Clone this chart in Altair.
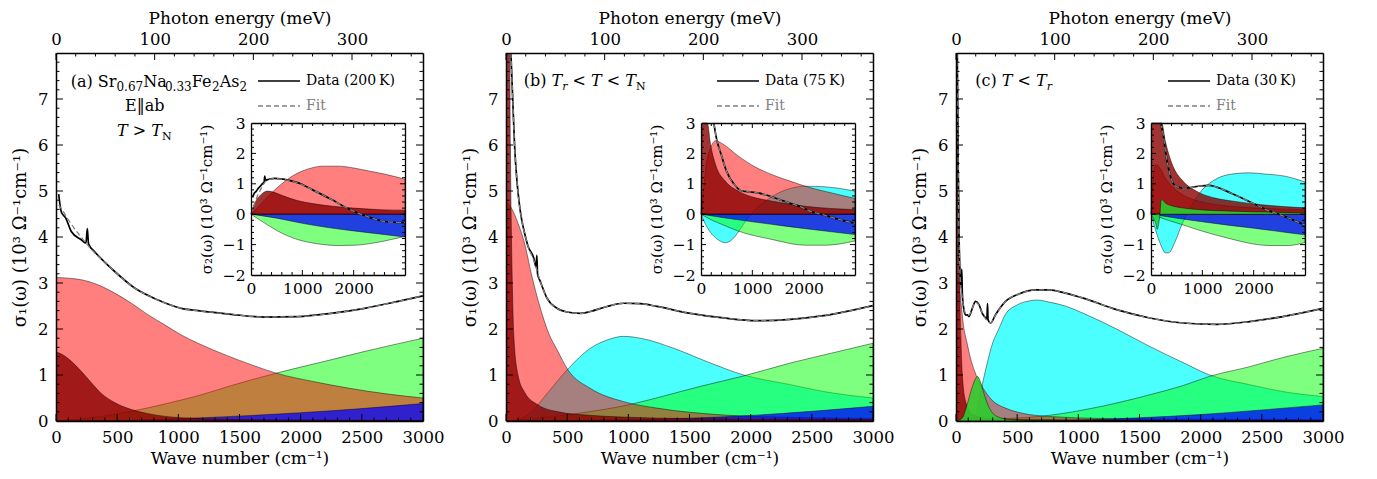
import altair as alt
import pandas as pd

# ------------------------------------------------------------------ data
# Panel (a)  T > TN, 200 K   -- sigma1 (main)
a1_data_x = [22, 43, 80, 125, 207, 245, 256, 266, 316, 400, 480, 643, 834, 1024, 1161, 1433, 1706, 1978, 2248, 2523, 2796, 3000]
a1_data_y = [4.93, 4.55, 4.41, 4.12, 3.94, 3.87, 4.18, 3.85, 3.68, 3.45, 3.25, 2.89, 2.63, 2.45, 2.40, 2.32, 2.26, 2.27, 2.34, 2.45, 2.60, 2.72]
a1_fit_x = [22, 60, 100, 160, 220, 300, 400, 480, 643, 834, 1024, 1161, 1433, 1706, 1978, 2248, 2523, 2796, 3000]
a1_fit_y = [4.70, 4.55, 4.38, 4.15, 3.95, 3.70, 3.45, 3.25, 2.89, 2.63, 2.45, 2.40, 2.32, 2.26, 2.27, 2.34, 2.45, 2.60, 2.72]
a1_dred_x = [0, 40, 125, 207, 289, 370, 480, 616, 752, 1024, 1500, 2000, 3000]
a1_dred_y = [1.50, 1.46, 1.30, 1.08, 0.83, 0.60, 0.40, 0.25, 0.16, 0.07, 0.03, 0.02, 0.01]
a1_red_x = [0, 207, 343, 480, 616, 752, 889, 1024, 1161, 1400, 1600, 1800, 2100, 2400, 2700, 3000]
a1_red_y = [3.12, 3.07, 2.96, 2.78, 2.56, 2.31, 2.09, 1.87, 1.69, 1.42, 1.22, 1.04, 0.86, 0.71, 0.59, 0.50]
a1_green_x = [0, 343, 616, 889, 1161, 1433, 1800, 2248, 2520, 3000]
a1_green_y = [0.0, 0.09, 0.21, 0.37, 0.55, 0.77, 1.04, 1.33, 1.51, 1.80]
a1_blue_x = [0, 500, 800, 1200, 1600, 2000, 2500, 3000]
a1_blue_y = [0.0, 0.01, 0.03, 0.07, 0.12, 0.18, 0.27, 0.38]
# Panel (a) -- sigma2 (inset)
a2_data_x = [30, 60, 100, 140, 180, 220, 255, 268, 280, 350, 467, 700, 922, 1200, 1572, 1896, 2221, 2610, 3000]
a2_data_y = [0.55, 0.68, 0.75, 0.85, 0.92, 1.00, 1.05, 1.25, 1.12, 1.15, 1.18, 1.13, 1.03, 0.80, 0.48, 0.18, -0.05, -0.24, -0.28]
a2_fit_x = [0, 100, 200, 300, 467, 700, 922, 1200, 1572, 1896, 2221, 2610, 3000]
a2_fit_y = [0.0, 0.50, 0.85, 1.10, 1.17, 1.12, 1.02, 0.80, 0.48, 0.18, -0.05, -0.24, -0.28]
a2_dred_x = [0, 100, 200, 320, 450, 600, 900, 1200, 1600, 2000, 2500, 3000]
a2_dred_y = [0.0, 0.45, 0.65, 0.76, 0.72, 0.62, 0.45, 0.35, 0.26, 0.20, 0.15, 0.13]
a2_red_x = [0, 200, 400, 600, 800, 1000, 1200, 1400, 1700, 2000, 2300, 2600, 3000]
a2_red_y = [0.0, 0.35, 0.70, 1.00, 1.25, 1.42, 1.53, 1.58, 1.58, 1.52, 1.42, 1.32, 1.15]
a2_green_x = [0, 273, 597, 922, 1247, 1701, 2026, 2416, 2740, 3000]
a2_green_y = [0.0, -0.30, -0.62, -0.84, -0.96, -1.03, -1.02, -0.94, -0.83, -0.73]
a2_blue_x = [0, 500, 1000, 1500, 2000, 2500, 3000]
a2_blue_y = [0.0, -0.13, -0.30, -0.44, -0.55, -0.65, -0.75]

# Panel (b)  Tr < T < TN, 75 K -- sigma1
b1_data_x = [40, 55, 70, 90, 110, 130, 155, 180, 226, 246, 252, 258, 281, 335, 417, 499, 608, 689, 826, 962, 1098, 1234, 1507, 1779, 2052, 2324, 2597, 3000]
b1_data_y = [8.0, 7.0, 6.0, 5.2, 4.7, 4.35, 4.05, 3.8, 3.55, 3.35, 3.6, 3.2, 3.03, 2.67, 2.45, 2.37, 2.34, 2.38, 2.49, 2.56, 2.55, 2.49, 2.34, 2.24, 2.18, 2.21, 2.29, 2.51]
b1_fit_x = [40, 55, 70, 90, 110, 130, 155, 180, 226, 281, 335, 417, 499, 608, 689, 826, 962, 1098, 1234, 1507, 1779, 2052, 2324, 2597, 3000]
b1_fit_y = [8.0, 7.0, 6.0, 5.2, 4.7, 4.35, 4.05, 3.8, 3.5, 3.03, 2.67, 2.45, 2.37, 2.34, 2.38, 2.49, 2.56, 2.55, 2.49, 2.34, 2.24, 2.18, 2.21, 2.29, 2.51]
b1_dred_x = [0, 30, 36, 42, 50, 65, 98, 153, 262, 425, 700, 1000, 1500, 2000, 3000]
b1_dred_y = [8.0, 8.0, 6.0, 4.5, 3.2, 1.8, 1.0, 0.62, 0.35, 0.20, 0.12, 0.08, 0.05, 0.04, 0.03]
b1_red_x = [0, 44, 98, 153, 207, 281, 350, 417, 507, 689, 962, 1234, 1779, 2324, 3000]
b1_red_y = [4.77, 4.63, 4.30, 3.85, 3.20, 2.45, 1.90, 1.55, 1.11, 0.71, 0.42, 0.28, 0.13, 0.08, 0.05]
b1_cyan_x = [0, 100, 207, 343, 499, 689, 826, 962, 1098, 1371, 1643, 1943, 2324, 2597, 3000]
b1_cyan_y = [0.0, 0.03, 0.20, 0.62, 1.11, 1.58, 1.76, 1.84, 1.80, 1.58, 1.29, 1.00, 0.79, 0.64, 0.50]
b1_green_x = [0, 300, 600, 1000, 1300, 1600, 1943, 2324, 2700, 3000]
b1_green_y = [0.0, 0.07, 0.17, 0.35, 0.55, 0.76, 0.98, 1.26, 1.50, 1.69]
b1_blue_x = [0, 500, 1000, 1500, 2000, 2500, 3000]
b1_blue_y = [0.0, 0.01, 0.03, 0.06, 0.12, 0.21, 0.32]
# Panel (b) -- sigma2
b2_data_x = [250, 300, 394, 500, 660, 782, 900, 1105, 1254, 1429, 1700, 1945, 2159, 2399, 2700, 3000]
b2_data_y = [3.0, 2.5, 1.96, 1.40, 0.95, 0.77, 0.74, 0.70, 0.64, 0.54, 0.38, 0.24, 0.08, -0.03, -0.18, -0.30]
b2_fit_x = b2_data_x
b2_fit_y = b2_data_y
b2_dred_x = [0, 10, 26, 60, 123, 187, 284, 478, 737, 1060, 1383, 2030, 3000]
b2_dred_y = [0.0, 1.5, 3.0, 3.0, 3.0, 2.29, 1.63, 1.08, 0.75, 0.54, 0.43, 0.26, 0.15]
b2_red_x = [0, 40, 90, 187, 284, 414, 737, 1060, 1383, 1751, 2030, 2418, 3000]
b2_red_y = [0.0, 0.6, 1.5, 2.18, 2.42, 2.32, 1.90, 1.55, 1.30, 1.08, 0.92, 0.75, 0.52]
b2_cyan_x = [0, 90, 220, 381, 478, 608, 737, 866, 995, 1254, 1513, 1771, 2030, 2418, 3000]
b2_cyan_y = [0.0, -0.34, -0.67, -0.89, -0.94, -0.83, -0.56, -0.23, 0.04, 0.43, 0.70, 0.86, 0.92, 0.90, 0.76]
b2_green_x = [0, 220, 414, 737, 1383, 2030, 2418, 3000]
b2_green_y = [0.0, -0.20, -0.34, -0.56, -0.83, -1.02, -1.02, -0.88]
b2_blue_x = [0, 500, 1000, 1500, 2000, 2500, 3000]
b2_blue_y = [0.0, -0.13, -0.25, -0.36, -0.47, -0.57, -0.67]

# Panel (c)  T < Tr, 30 K -- sigma1
c1_data_x = [8, 15, 25, 33, 42, 47, 52, 63, 70, 80, 92, 106, 133, 160, 188, 215, 242, 252, 258, 262, 283, 323, 405, 514, 649, 758, 894, 1041, 1312, 1584, 1856, 2128, 2399, 2671, 3000]
c1_data_y = [8.0, 6.0, 4.0, 3.2, 2.9, 3.3, 2.75, 2.45, 2.35, 2.3, 2.31, 2.27, 2.45, 2.6, 2.53, 2.34, 2.24, 2.22, 2.55, 2.2, 2.13, 2.31, 2.6, 2.76, 2.85, 2.85, 2.78, 2.67, 2.42, 2.24, 2.13, 2.10, 2.16, 2.27, 2.45]
c1_fit_x = [8, 15, 25, 35, 50, 65, 80, 106, 133, 160, 188, 215, 242, 283, 323, 405, 514, 649, 758, 894, 1041, 1312, 1584, 1856, 2128, 2399, 2671, 3000]
c1_fit_y = [8.0, 6.0, 4.0, 3.1, 2.7, 2.45, 2.33, 2.3, 2.45, 2.58, 2.52, 2.34, 2.22, 2.14, 2.3, 2.6, 2.76, 2.85, 2.85, 2.78, 2.67, 2.42, 2.24, 2.13, 2.10, 2.16, 2.27, 2.45]
c1_dred_x = [0, 15, 20, 24, 30, 40, 52, 79, 133, 250, 500, 1000, 3000]
c1_dred_y = [8.0, 8.0, 6.0, 4.5, 3.0, 1.8, 1.0, 0.42, 0.15, 0.06, 0.03, 0.02, 0.01]
c1_red_x = [0, 24, 40, 60, 90, 120, 150, 180, 220, 296, 405, 541, 758, 1300, 2000, 3000]
c1_red_y = [3.2, 3.0, 2.6, 2.1, 1.7, 1.35, 1.1, 0.9, 0.72, 0.45, 0.28, 0.17, 0.10, 0.05, 0.04, 0.03]
c1_gn_x = [0, 50, 90, 130, 160, 175, 200, 226, 266, 334, 443, 600, 1000, 3000]
c1_gn_y = [0.0, 0.06, 0.35, 0.72, 0.92, 0.97, 0.85, 0.62, 0.32, 0.10, 0.03, 0.01, 0.0, 0.0]
c1_cyan_x = [0, 140, 170, 200, 250, 300, 350, 400, 497, 580, 660, 769, 905, 1041, 1312, 1584, 1856, 2073, 2399, 2671, 3000]
c1_cyan_y = [0.0, 0.02, 0.2, 0.6, 1.2, 1.7, 2.0, 2.3, 2.52, 2.6, 2.63, 2.58, 2.49, 2.34, 2.0, 1.62, 1.27, 1.0, 0.79, 0.64, 0.53]
c1_green_x = [0, 300, 688, 1041, 1312, 1584, 1856, 2073, 2399, 2671, 3000]
c1_green_y = [0.0, 0.04, 0.10, 0.24, 0.39, 0.57, 0.77, 0.97, 1.18, 1.38, 1.58]
c1_blue_x = [0, 1000, 1500, 2000, 2500, 3000]
c1_blue_y = [0.0, 0.02, 0.07, 0.14, 0.24, 0.35]
# Panel (c) -- sigma2
c2_data_x = [190, 240, 278, 330, 408, 505, 667, 926, 1120, 1266, 1574, 1913, 2221, 2610, 3000]
c2_data_y = [3.0, 2.6, 2.1, 1.6, 1.1, 0.9, 0.86, 0.92, 0.95, 0.90, 0.68, 0.42, 0.17, -0.08, -0.36]
c2_fit_x = c2_data_x
c2_fit_y = c2_data_y
c2_dred_x = [0, 8, 150, 208, 280, 369, 450, 629, 952, 1250, 1600, 2221, 3000]
c2_dred_y = [0.0, 3.0, 3.0, 3.0, 2.4, 1.85, 1.5, 1.08, 0.70, 0.53, 0.43, 0.30, 0.21]
c2_red_x = [0, 30, 60, 90, 130, 181, 278, 473, 667, 926, 1574, 2221, 3000]
c2_red_y = [0.0, 0.9, 1.45, 1.63, 1.60, 1.50, 1.19, 0.81, 0.59, 0.43, 0.26, 0.19, 0.15]
c2_gn_x = [0, 50, 100, 120, 150, 175, 195, 214, 278, 400, 602, 1000, 1574, 2221, 3000]
c2_gn_y = [0.0, -0.15, -0.35, -0.50, -0.30, 0.0, 0.45, 0.48, 0.37, 0.28, 0.21, 0.14, 0.10, 0.07, 0.04]
c2_cyan_x = [0, 117, 214, 278, 343, 473, 602, 732, 926, 1250, 1574, 1898, 2221, 2610, 3000]
c2_cyan_y = [0.0, -0.67, -1.10, -1.27, -1.27, -0.89, -0.34, 0.10, 0.65, 1.14, 1.32, 1.36, 1.32, 1.25, 1.06]
c2_green_x = [0, 300, 602, 926, 1250, 1574, 1900, 2300, 2675, 3000]
c2_green_y = [0.0, -0.18, -0.34, -0.52, -0.68, -0.82, -0.95, -1.03, -1.03, -0.93]
c2_blue_x = [0, 500, 1000, 1500, 2000, 2500, 3000]
c2_blue_y = [0.0, -0.13, -0.25, -0.36, -0.46, -0.57, -0.68]

# tick values / labels
main_x_major = [0, 500, 1000, 1500, 2000, 2500, 3000]
main_x_minor = [v for v in range(0, 3001, 100) if v % 500]
mev_major = [0, 100, 200, 300]
mev_minor = [v for v in range(0, 372, 20) if v % 100]
main_y_labels = [0, 1, 2, 3, 4, 5, 6, 7]
main_y_major = [1, 2, 3, 4, 5, 6, 7]
main_y_minor = [round(k * 0.2, 1) for k in range(1, 40) if k % 5]
in_x_labels = [0, 1000, 2000]
in_x_major = [1000, 2000]
in_x_minor = [v for v in range(200, 3000, 200) if v % 1000]
in_y_major = [-2, -1, 0, 1, 2, 3]
in_y_ticks = [-1, 0, 1, 2]
in_y_minor = [round(-2 + k * 0.2, 1) for k in range(1, 25) if k % 5]

# ------------------------------------------------------------------ style / layout
FONT = "DejaVu Serif"
W, H = 367, 368
XMAX, YMAX = 3000, 8
MEV_MAX = 3000 * 0.123984
IX = [195, 349]
IY = [222, 70]

COL = {
    "cyan": ("#00ffff", 0.7),
    "green": ("#00ff00", 0.5),
    "red": ("#ff0000", 0.5),
    "blue": ("#0000ff", 0.75),
    "dred": ("#8b0000", 0.8),
    "gn": ("#2ecc2e", 0.9),
}

AX = dict(labelFont=FONT, titleFont=FONT, labelColor="black", titleColor="black",
          domainColor="black", tickColor="black", grid=False, zindex=2,
          titleFontWeight="normal", labelOverlap=False, labelFlush=False)


def sx(inset):
    return alt.Scale(domain=[0, XMAX], range=IX if inset else [0, W], nice=False, zero=False)


def sy(inset):
    if inset:
        return alt.Scale(domain=[-2, 3], range=IY, nice=False, zero=False, clamp=True)
    return alt.Scale(domain=[0, YMAX], range=[H, 0], nice=False, zero=False)


def sev():
    return alt.Scale(domain=[0, MEV_MAX], range=[0, W], nice=False, zero=False)


def area(x, y, key, inset):
    fill, op = COL[key]
    return alt.Chart(pd.DataFrame({"x": x, "y": y})).mark_area(
        fill=fill, fillOpacity=op, stroke="black", strokeWidth=0.6, strokeOpacity=0.75,
        interpolate="monotone", clip=not inset
    ).encode(
        x=alt.X("x:Q", scale=sx(inset), axis=None),
        y=alt.Y("y:Q", scale=sy(inset), axis=None),
        y2=alt.datum(0),
    )


def line(x, y, inset, fit=False):
    if fit:
        mk = dict(color="#7f7f7f", strokeDash=[5, 3], strokeWidth=1.3)
    else:
        mk = dict(color="black", strokeWidth=1.7)
    return alt.Chart(pd.DataFrame({"x": x, "y": y})).mark_line(
        interpolate="monotone", clip=not inset, **mk
    ).encode(
        x=alt.X("x:Q", scale=sx(inset), axis=None),
        y=alt.Y("y:Q", scale=sy(inset), axis=None),
    )


def ax_layer(x_scale=None, x_axis=None, y_scale=None, y_axis=None):
    enc = {}
    if x_axis is not None:
        enc["x"] = alt.X("v:Q", scale=x_scale, axis=x_axis)
    if y_axis is not None:
        enc["y"] = alt.Y("v:Q", scale=y_scale, axis=y_axis)
    return alt.Chart(pd.DataFrame({"v": [0.0]})).mark_point(opacity=0).encode(**enc)


def vticks(values, scale, edge, length):
    """inward tick marks along a horizontal frame edge (edge = pixel row, length signed)"""
    return alt.Chart(pd.DataFrame({"v": values})).mark_rule(color="black", strokeWidth=1).encode(
        x=alt.X("v:Q", scale=scale, axis=None), y=alt.value(edge), y2=alt.value(edge + length))


def hticks(values, scale, edge, length):
    """inward tick marks along a vertical frame edge"""
    return alt.Chart(pd.DataFrame({"v": values})).mark_rule(color="black", strokeWidth=1).encode(
        y=alt.Y("v:Q", scale=scale, axis=None), x=alt.value(edge), x2=alt.value(edge + length))


def frame():
    xm, ym = sx(False), sy(False)
    xi, yi = sx(True), sy(True)
    L = []
    # inward ticks, main frame
    L += [vticks(main_x_major, xm, H, -7), vticks(main_x_minor, sx(False), H, -3.5),
          vticks(mev_major, sev(), 0, 7), vticks(mev_minor, sev(), 0, 3.5),
          hticks(main_y_major, ym, 0, 7), hticks(main_y_minor, sy(False), 0, 3.5),
          hticks(main_y_major, sy(False), W, -7), hticks(main_y_minor, sy(False), W, -3.5)]
    # inward ticks, inset frame
    L += [vticks(in_x_major, xi, IY[0], -5), vticks(in_x_minor, sx(True), IY[0], -3),
          vticks(in_x_major, sx(True), IY[1], 5), vticks(in_x_minor, sx(True), IY[1], 3),
          hticks(in_y_ticks, yi, IX[0], 5), hticks(in_y_minor, sy(True), IX[0], 3),
          hticks(in_y_ticks, sy(True), IX[1], -5), hticks(in_y_minor, sy(True), IX[1], -3)]
    # main frame with labels
    L.append(ax_layer(sx(False), alt.Axis(orient="bottom", values=main_x_major, ticks=False, format="d",
                                          labelFontSize=16.5, labelPadding=8, domainWidth=1.5,
                                          title="Wave number (cm\u207b\u00b9)", titleFontSize=17,
                                          titlePadding=5, **AX),
                      sy(False), alt.Axis(orient="left", values=main_y_labels, ticks=False, format="d",
                                          labelFontSize=16.5, labelPadding=8, domainWidth=1.5,
                                          title="\u03c3\u2081(\u03c9) (10\u00b3 \u03a9\u207b\u00b9cm\u207b\u00b9)",
                                          titleFontSize=18, titlePadding=8, **AX)))
    L.append(ax_layer(sev(), alt.Axis(orient="top", values=mev_major, ticks=False, format="d",
                                      labelFontSize=16.5, labelPadding=6, domainWidth=1.5,
                                      title="Photon energy (meV)", titleFontSize=17,
                                      titlePadding=4, **AX),
                      sy(False), alt.Axis(orient="right", ticks=False, labels=False, domainWidth=1.5,
                                          title=None, **AX)))
    # inset frame with labels
    L.append(ax_layer(sx(True), alt.Axis(orient="bottom", offset=-(H - IY[0]), values=in_x_labels,
                                         ticks=False, format="d", labelFontSize=15.5, labelPadding=6,
                                         domainWidth=1.3, title=None, **AX),
                      sy(True), alt.Axis(orient="left", offset=-IX[0], values=in_y_major, ticks=False,
                                         format="d", labelFontSize=15.5, labelPadding=6, domainWidth=1.3,
                                         title="\u03c3\u2082(\u03c9) (10\u00b3 \u03a9\u207b\u00b9cm\u207b\u00b9)",
                                         titleFontSize=15, titlePadding=8, **AX)))
    L.append(ax_layer(sx(True), alt.Axis(orient="top", offset=-IY[1], ticks=False, labels=False,
                                         domainWidth=1.3, title=None, **AX),
                      sy(True), alt.Axis(orient="right", offset=-(W - IX[1]), ticks=False, labels=False,
                                         domainWidth=1.3, title=None, **AX)))
    return L


# ---- text helpers
WID = {" ": 0.318, "(": 0.390, ")": 0.390, ".": 0.318, "a": 0.596, "b": 0.640, "c": 0.560,
       "e": 0.592, "r": 0.478, "s": 0.513, "S": 0.688, "N": 0.765, "F": 0.683, "A": 0.722,
       "T": 0.669, "<": 0.838, ">": 0.838}
for d in "0123456789":
    WID[d] = 0.636


def text_mark(txt, x, y, size=16, color="black", style="normal", align="left", baseline="alphabetic"):
    return alt.Chart(pd.DataFrame({"t": [txt]})).mark_text(
        text=txt, font=FONT, fontSize=size, color=color, fontStyle=style,
        align=align, baseline=baseline
    ).encode(x=alt.value(x), y=alt.value(y))


def rich(pieces, x0, y0):
    out = []
    x = x0
    for txt, size, dy, style in pieces:
        if txt.strip():
            out.append(text_mark(txt, x, y0 + dy, size, style=style))
        x += sum(WID.get(ch, 0.6) for ch in txt) * size
    return out


def legend(label, x_text):
    out = [
        alt.Chart(pd.DataFrame({"v": [0]})).mark_rule(color="black", strokeWidth=1.5).encode(
            x=alt.value(x_text - 48), x2=alt.value(x_text - 6), y=alt.value(28)),
        alt.Chart(pd.DataFrame({"v": [0]})).mark_rule(color="#7f7f7f", strokeWidth=1.5,
                                                       strokeDash=[5, 3]).encode(
            x=alt.value(x_text - 48), x2=alt.value(x_text - 6), y=alt.value(53)),
        text_mark(label, x_text, 28, 14, baseline="middle"),
        text_mark("Fit", x_text, 53, 14, color="#808080", baseline="middle"),
    ]
    return out


def panel(main, inset, texts):
    layers = []
    for inset_flag, comp in ((False, main), (True, inset)):
        for key in ("cyan", "green", "red", "blue", "dred", "gn"):
            if key in comp:
                layers.append(area(comp[key][0], comp[key][1], key, inset_flag))
        layers.append(line(comp["data"][0], comp["data"][1], inset_flag))
        layers.append(line(comp["fit"][0], comp["fit"][1], inset_flag, fit=True))
    layers += texts
    layers += frame()
    return alt.layer(*layers).resolve_scale(x="independent", y="independent").properties(
        width=W, height=H)


S, I = "normal", "italic"
txt_a = rich([("(a) Sr", 16, 0, S), ("0.67", 12, 4, S), ("Na", 16, 0, S), ("0.33", 12, 4, S),
              ("Fe", 16, 0, S), ("2", 12, 4, S), ("As", 16, 0, S), ("2", 12, 4, S)], 14.7, 33.7)
txt_a += [text_mark("E\u2016ab", 88.7, 58, 16, align="center")]
txt_a += rich([("T", 16, 0, I), (" ", 16, 0, S), (">", 16, 0, S), (" ", 16, 0, S),
               ("T", 16, 0, I), ("N", 11, 4, S)], 61, 83)
txt_a += legend("Data (200\u2009K)", 250)

txt_b = rich([("(b)", 16, 0, S), (" ", 16, 0, S), ("T", 16, 0, I), ("r", 11, 4, I),
              (" ", 16, 0, S), ("<", 16, 0, S), (" ", 16, 0, S), ("T", 16, 0, I),
              (" ", 16, 0, S), ("<", 16, 0, S), (" ", 16, 0, S), ("T", 16, 0, I),
              ("N", 11, 4, S)], 17.7, 33)
txt_b += legend("Data (75\u2009K)", 259)

txt_c = rich([("(c)", 16, 0, S), (" ", 16, 0, S), ("T", 16, 0, I), (" ", 16, 0, S),
              ("<", 16, 0, S), (" ", 16, 0, S), ("T", 16, 0, I), ("r", 11, 4, I)], 19.3, 33)
txt_c += legend("Data (30\u2009K)", 260)

pa = panel(
    {"green": (a1_green_x, a1_green_y), "red": (a1_red_x, a1_red_y), "blue": (a1_blue_x, a1_blue_y),
     "dred": (a1_dred_x, a1_dred_y), "data": (a1_data_x, a1_data_y), "fit": (a1_fit_x, a1_fit_y)},
    {"green": (a2_green_x, a2_green_y), "red": (a2_red_x, a2_red_y), "blue": (a2_blue_x, a2_blue_y),
     "dred": (a2_dred_x, a2_dred_y), "data": (a2_data_x, a2_data_y), "fit": (a2_fit_x, a2_fit_y)},
    txt_a)
pb = panel(
    {"cyan": (b1_cyan_x, b1_cyan_y), "green": (b1_green_x, b1_green_y), "red": (b1_red_x, b1_red_y),
     "blue": (b1_blue_x, b1_blue_y), "dred": (b1_dred_x, b1_dred_y),
     "data": (b1_data_x, b1_data_y), "fit": (b1_fit_x, b1_fit_y)},
    {"cyan": (b2_cyan_x, b2_cyan_y), "green": (b2_green_x, b2_green_y), "red": (b2_red_x, b2_red_y),
     "blue": (b2_blue_x, b2_blue_y), "dred": (b2_dred_x, b2_dred_y),
     "data": (b2_data_x, b2_data_y), "fit": (b2_fit_x, b2_fit_y)},
    txt_b)
pc = panel(
    {"cyan": (c1_cyan_x, c1_cyan_y), "green": (c1_green_x, c1_green_y), "red": (c1_red_x, c1_red_y),
     "blue": (c1_blue_x, c1_blue_y), "dred": (c1_dred_x, c1_dred_y), "gn": (c1_gn_x, c1_gn_y),
     "data": (c1_data_x, c1_data_y), "fit": (c1_fit_x, c1_fit_y)},
    {"cyan": (c2_cyan_x, c2_cyan_y), "green": (c2_green_x, c2_green_y), "red": (c2_red_x, c2_red_y),
     "blue": (c2_blue_x, c2_blue_y), "dred": (c2_dred_x, c2_dred_y), "gn": (c2_gn_x, c2_gn_y),
     "data": (c2_data_x, c2_data_y), "fit": (c2_fit_x, c2_fit_y)},
    txt_c)

chart = alt.hconcat(pa, pb, pc, spacing=83, bounds="flush").properties(
    padding={"left": 3, "top": 0, "right": 5, "bottom": 0}
).configure_view(stroke=None).configure(background="white")

chart.save("out.html", embed_options={"renderer": "svg", "actions": False})
